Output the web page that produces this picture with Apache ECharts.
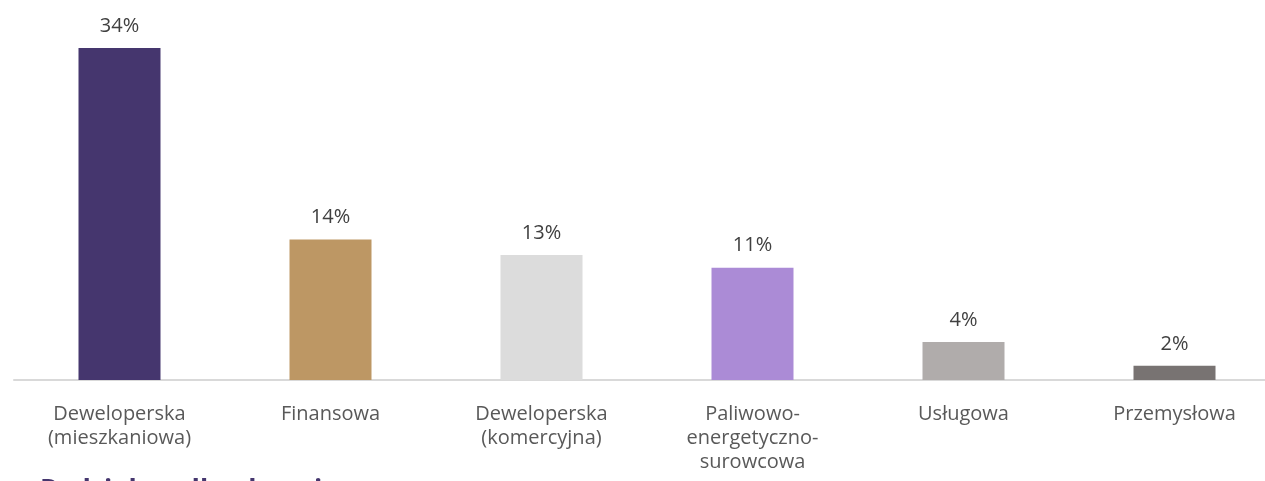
<!DOCTYPE html>
<html><head><meta charset="utf-8">
<script src="https://cdn.jsdelivr.net/npm/echarts@6/dist/echarts.min.js"></script>
<style>html,body{margin:0;padding:0;background:#fff;overflow:hidden}#c{width:1280px;height:481px}</style>
</head><body><div id="c"></div>
<script>
const categories = ["Deweloperska\n(mieszkaniowa)", "Finansowa", "Deweloperska\n(komercyjna)", "Paliwowo-\nenergetyczno-\nsurowcowa", "Usługowa", "Przemysłowa"];
const values = [34, 14.4, 12.8, 11.5, 3.9, 1.45];
const valueLabels = ["34%", "14%", "13%", "11%", "4%", "2%"];
const colors = ["#45366e", "#bd9764", "#dcdcdc", "#ab8bd6", "#b0acab", "#787372"];
const titleText = "Podział według branży";

const chart = echarts.init(document.getElementById('c'));
chart.setOption({
  animation: false,
  grid: { left: 14, right: 0, top: 48, bottom: 101, containLabel: false },
  xAxis: {
    type: 'category', data: categories,
    axisLine: { lineStyle: { color: '#d9d9d9', width: 2 } },
    axisTick: { show: false },
    axisLabel: { color: '#595959', fontSize: 20, fontFamily: 'Open Sans', lineHeight: 24, margin: 22, interval: 0 }
  },
  yAxis: { type: 'value', min: 0, max: 34, show: false, splitLine: { show: false } },
  series: [{
    type: 'bar', barWidth: 82,
    data: values.map((v, i) => ({ value: v, itemStyle: { color: colors[i] } })),
    label: {
      show: true, position: 'top', distance: 12, color: '#404040', fontSize: 20, fontFamily: 'Open Sans',
      formatter: p => valueLabels[p.dataIndex]
    }
  }],
  graphic: [{
    type: 'text', left: 40, top: 477,
    style: { text: titleText, fill: '#45366e', font: 'bold 27px "Open Sans"' }
  }]
});
</script></body></html>
